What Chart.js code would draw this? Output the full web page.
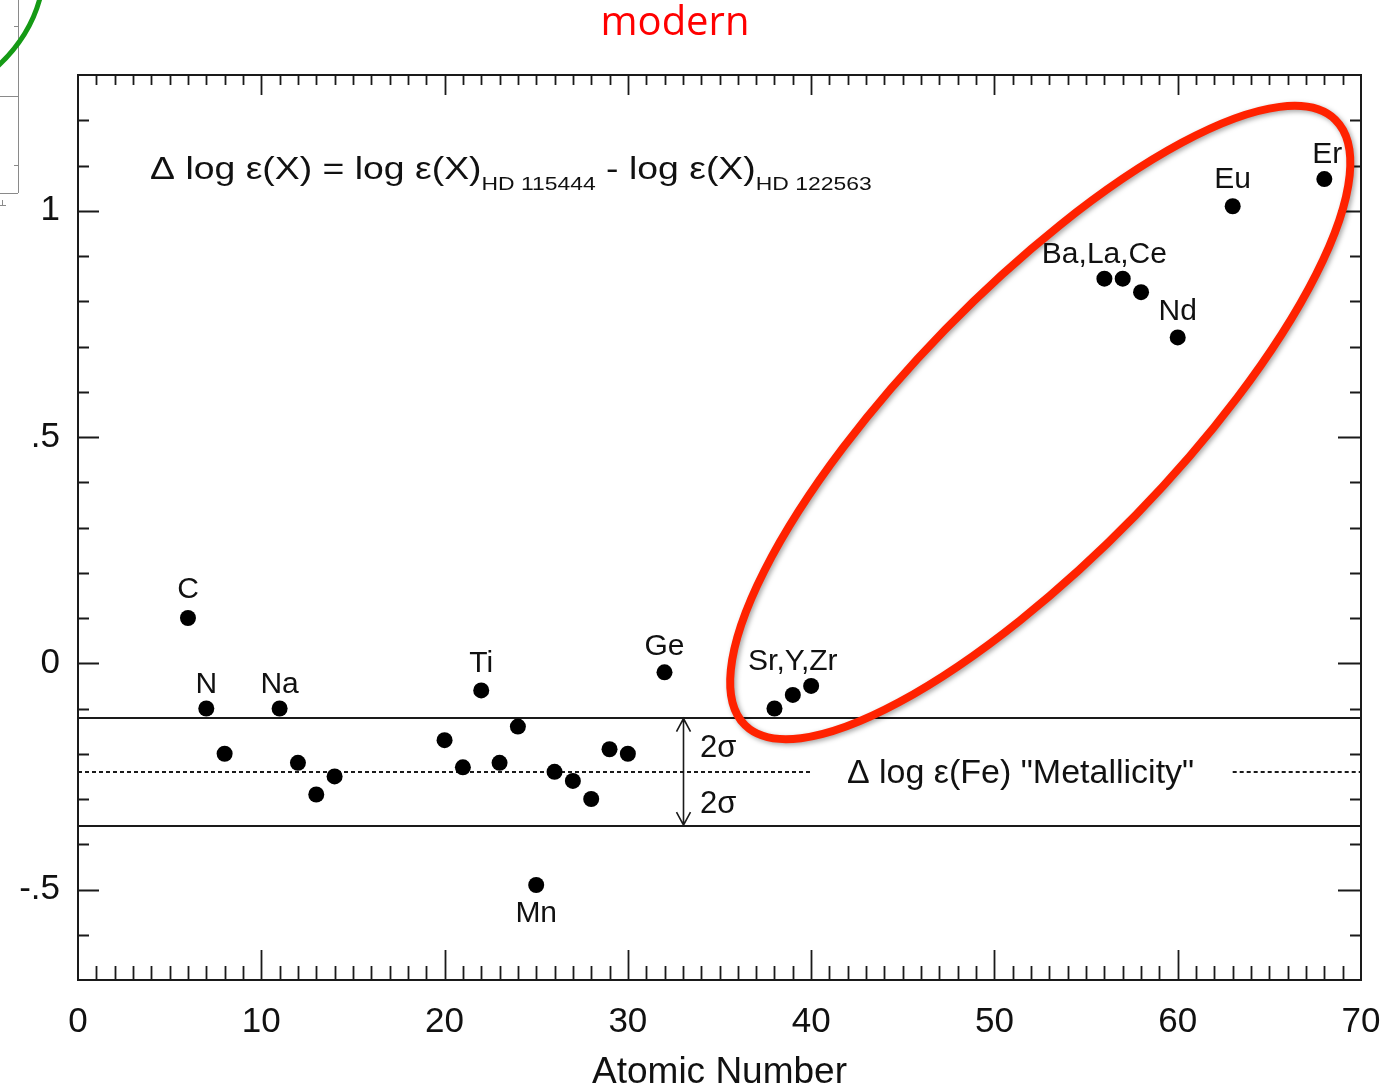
<!DOCTYPE html>
<html><head><meta charset="utf-8">
<script src="https://cdn.jsdelivr.net/npm/chart.js@4.4.1/dist/chart.umd.min.js"></script>
<style>html,body{margin:0;padding:0;background:#fff;}#wrap{position:relative;width:1388px;height:1091px;}canvas{display:block;}</style>
</head><body><div id="wrap"><canvas id="c" width="1388" height="1091"></canvas></div>
<script>
// ---- data ----
const atomicNumbers = [6,7,8,11,12,13,14,20,21,22,23,24,25,26,27,28,29,30,32,38,39,40,56,57,58,60,63,68];
const deltaLogEps   = [0.10,-0.10,-0.20,-0.10,-0.22,-0.29,-0.25,-0.17,-0.23,-0.06,-0.22,-0.14,-0.49,-0.24,-0.26,-0.30,-0.19,-0.20,-0.02,-0.10,-0.07,-0.05,0.85,0.85,0.82,0.72,1.01,1.07];
const elementLabels = ['C','N','Na','Ti','Ge','Sr,Y,Zr','Mn','Ba,La,Ce','Nd','Eu','Er'];
const labelAnchorZ  = [6,7,11,22,32,39,25,56,60,63,68];
const xTickValues = [0,10,20,30,40,50,60,70];
const xTickLabels = ['0','10','20','30','40','50','60','70'];
const yTickValues = [-0.5,0,0.5,1];
const yTickLabels = ['-.5','0','.5','1'];
const metallicity = -0.24;
const bandUpper = -0.12;
const bandLower = -0.36;
const arrowZ = 33;
const dottedGap = [40, 63];

// label placement (pixel offsets from anchor point: baseline dy, dx)
const labelDy = [-20,-16,-16,-18,-17,-25,37,-16,-17,-18,-16];
const labelDx = [0,0,0,0,0,0,0,0,0,0,3];

const FONT = '"Liberation Sans", Arial, Helvetica, sans-serif';
const INK = '#111111';

function yLabel(v){
  for (let i=0;i<yTickValues.length;i++) if (Math.abs(v-yTickValues[i])<1e-6) return yTickLabels[i];
  return '';
}
function xLabel(v){
  for (let i=0;i<xTickValues.length;i++) if (Math.abs(v-xTickValues[i])<1e-6) return xTickLabels[i];
  return '';
}

function drawEquation(ctx, x0, yBase, targetW){
  const parts = [['\u0394 log \u03b5(X) = log \u03b5(X)', false], ['HD 115444', true], [' - log \u03b5(X)', false], ['HD 122563', true]];
  const mainF = '31px ' + FONT, subF = '19px ' + FONT;
  let total = 0;
  parts.forEach(p => { ctx.font = p[1] ? subF : mainF; total += ctx.measureText(p[0]).width; });
  const s = targetW / total;
  ctx.save();
  ctx.translate(x0, yBase);
  ctx.scale(s, 1);
  ctx.fillStyle = INK; ctx.textAlign = 'left'; ctx.textBaseline = 'alphabetic';
  let cx = 0;
  parts.forEach(p => {
    ctx.font = p[1] ? subF : mainF;
    ctx.fillText(p[0], cx, p[1] ? 11 : 0);
    cx += ctx.measureText(p[0]).width;
  });
  ctx.restore();
}

const decor = {
  id: 'decor',
  beforeDatasetsDraw(chart){
    const {ctx, chartArea: a, scales: {x, y}} = chart;
    ctx.save();
    ctx.strokeStyle = '#1a1a1a';
    ctx.lineWidth = 2;
    [bandUpper, bandLower].forEach(v => {
      const py = Math.round(y.getPixelForValue(v));
      ctx.beginPath(); ctx.moveTo(a.left, py); ctx.lineTo(a.right, py); ctx.stroke();
    });
    const pm = Math.round(y.getPixelForValue(metallicity));
    ctx.setLineDash([4,3]);
    ctx.lineWidth = 2;
    ctx.beginPath();
    ctx.moveTo(a.left, pm); ctx.lineTo(x.getPixelForValue(dottedGap[0]), pm);
    ctx.moveTo(x.getPixelForValue(dottedGap[1]), pm); ctx.lineTo(a.right, pm);
    ctx.stroke();
    ctx.setLineDash([]);
    // double arrow
    const ax = Math.round(x.getPixelForValue(arrowZ)) + 0.5;
    const y1 = y.getPixelForValue(bandUpper) + 1, y2 = y.getPixelForValue(bandLower) - 1;
    ctx.lineWidth = 1.6;
    ctx.beginPath();
    ctx.moveTo(ax, y1); ctx.lineTo(ax, y2);
    ctx.moveTo(ax-7, y1+13); ctx.lineTo(ax, y1); ctx.lineTo(ax+7, y1+13);
    ctx.moveTo(ax-7, y2-13); ctx.lineTo(ax, y2); ctx.lineTo(ax+7, y2-13);
    ctx.stroke();
    // texts
    ctx.fillStyle = INK;
    ctx.textBaseline = 'alphabetic';
    ctx.textAlign = 'left';
    ctx.font = '31px ' + FONT;
    ctx.fillText('2\u03c3', x.getPixelForValue(33.93), y.getPixelForValue(-0.208));
    ctx.fillText('2\u03c3', x.getPixelForValue(33.93), y.getPixelForValue(-0.332));
    ctx.font = '34px ' + FONT;
    ctx.fillText('\u0394 log \u03b5(Fe) "Metallicity"', x.getPixelForValue(41.95), y.getPixelForValue(-0.265));
    // element labels
    ctx.font = '30px ' + FONT;
    ctx.textAlign = 'center';
    elementLabels.forEach((t, i) => {
      const z = labelAnchorZ[i];
      const v = deltaLogEps[atomicNumbers.indexOf(z)];
      ctx.fillText(t, x.getPixelForValue(z) + labelDx[i], y.getPixelForValue(v) + labelDy[i]);
    });
    // equation
    const ex0 = x.getPixelForValue(3.93), ex1 = x.getPixelForValue(43.3);
    drawEquation(ctx, ex0, y.getPixelForValue(1.071), ex1 - ex0);
    ctx.restore();
  },
  afterDatasetsDraw(chart){
    const {ctx, chartArea: a, scales: {x, y}} = chart;
    ctx.save();
    ctx.strokeStyle = '#1a1a1a';
    ctx.lineWidth = 2;
    ctx.strokeRect(a.left, a.top, a.right - a.left, a.bottom - a.top);
    ctx.lineWidth = 1.8;
    ctx.beginPath();
    x.ticks.forEach(t => {
      if (t.value <= x.min || t.value >= x.max) return;
      const px = Math.round(x.getPixelForValue(t.value)) + 0.5;
      const major = xLabel(t.value) !== '';
      ctx.moveTo(px, a.bottom); ctx.lineTo(px, a.bottom - (major ? 30 : 14));
      ctx.moveTo(px, a.top); ctx.lineTo(px, a.top + (major ? 20 : 10));
    });
    y.ticks.forEach(t => {
      if (t.value <= y.min + 1e-9 || t.value >= y.max - 1e-9) return;
      const py = Math.round(y.getPixelForValue(t.value)) + 0.5;
      const major = yLabel(t.value) !== '';
      ctx.moveTo(a.left, py); ctx.lineTo(a.left + (major ? 21 : 11), py);
      ctx.moveTo(a.right, py); ctx.lineTo(a.right - (major ? 23 : 11), py);
    });
    ctx.stroke();

    // red ellipse annotation
    const p1 = {x: x.getPixelForValue(36.4), y: y.getPixelForValue(-0.137)};
    const p2 = {x: x.getPixelForValue(68.6), y: y.getPixelForValue(1.201)};
    const cx = (p1.x + p2.x)/2, cy = (p1.y + p2.y)/2;
    const ang = Math.atan2(p2.y - p1.y, p2.x - p1.x);
    const rx = Math.hypot(p2.x - p1.x, p2.y - p1.y)/2;
    const ry = 133;
    ctx.save();
    ctx.shadowColor = 'rgba(0,0,0,0.35)';
    ctx.shadowBlur = 5; ctx.shadowOffsetX = 2; ctx.shadowOffsetY = 2;
    ctx.strokeStyle = '#ff2200';
    ctx.lineWidth = 8;
    ctx.beginPath();
    ctx.ellipse(cx, cy, rx, ry, ang, 0, Math.PI*2);
    ctx.stroke();
    ctx.restore();

    // slide decorations (neighbouring figure fragment)
    ctx.strokeStyle = '#8a8a8a'; ctx.lineWidth = 1;
    ctx.beginPath();
    ctx.moveTo(18.5, 0); ctx.lineTo(18.5, 193);
    ctx.moveTo(0, 96.5); ctx.lineTo(18, 96.5);
    ctx.moveTo(0, 193.5); ctx.lineTo(18, 193.5);
    ctx.moveTo(14, 26.5); ctx.lineTo(18, 26.5);
    ctx.moveTo(14, 165.5); ctx.lineTo(18, 165.5);
    ctx.moveTo(0, 205.5); ctx.lineTo(6, 205.5);
    ctx.moveTo(2.5, 200); ctx.lineTo(2.5, 205);
    ctx.stroke();
    ctx.strokeStyle = '#159a15'; ctx.lineWidth = 5;
    ctx.beginPath();
    ctx.moveTo(-2, 66); ctx.quadraticCurveTo(30, 36, 40, -2);
    ctx.stroke();

    // slide title
    ctx.fillStyle = '#ff0000';
    ctx.font = '40px "Open Sans", "Liberation Sans", sans-serif';
    ctx.textAlign = 'center'; ctx.textBaseline = 'alphabetic';
    ctx.fillText('modern', 675, 35);
    ctx.restore();
  }
};

const points = atomicNumbers.map((z, i) => ({x: z, y: deltaLogEps[i]}));

new Chart(document.getElementById('c'), {
  type: 'scatter',
  data: { datasets: [{ data: points, pointRadius: 8, pointHoverRadius: 8, backgroundColor: '#000', borderWidth: 0, pointStyle: 'circle' }] },
  options: {
    responsive: false,
    animation: false,
    events: [],
    layout: { padding: { top: 75, right: 27, left: 0, bottom: 0 } },
    plugins: { legend: { display: false }, tooltip: { enabled: false } },
    scales: {
      x: {
        type: 'linear', min: 0, max: 70,
        grid: { display: false }, border: { display: false },
        ticks: { stepSize: 1, autoSkip: false, maxRotation: 0, padding: 13, color: INK,
                 font: { family: FONT, size: 35, lineHeight: 1.2 }, callback: v => xLabel(v) },
        title: { display: true, text: 'Atomic Number', color: INK, padding: { top: 0, bottom: 0 },
                 font: { family: FONT, size: 37, lineHeight: 1.0 } },
        afterFit: s => { s.height = 111; s.paddingLeft = 0; s.paddingRight = 0; }
      },
      y: {
        type: 'linear', min: -0.7, max: 1.3,
        grid: { display: false }, border: { display: false },
        ticks: { stepSize: 0.1, autoSkip: false, padding: 10, color: INK,
                 font: { family: FONT, size: 35, lineHeight: 1.2 }, callback: v => yLabel(v) },
        afterFit: s => { s.width = 78; s.paddingTop = 0; s.paddingBottom = 0; }
      }
    }
  },
  plugins: [decor]
});
</script></body></html>
